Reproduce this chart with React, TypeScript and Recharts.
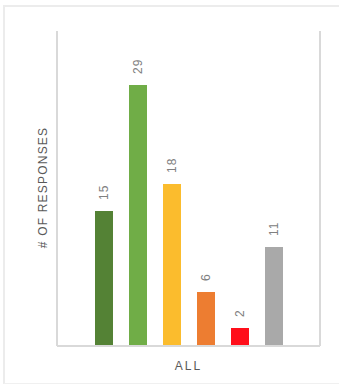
import React from 'react';
import { BarChart, Bar, XAxis, YAxis, LabelList, Label } from 'recharts';

const categories = ['ALL'];
const seriesKeys = ['s0', 's1', 's2', 's3', 's4', 's5'];
const seriesValues = [15, 29, 18, 6, 2, 11];
const seriesColors = ['#548235', '#70AD47', '#FBBC2D', '#ED7D31', '#FF0E1A', '#A9A9A9'];
const yDomain = [0, 35];
const yAxisTitle = '# OF RESPONSES';

const data = categories.map((name) => {
  const row: Record<string, string | number> = { name };
  seriesKeys.forEach((k, i) => {
    row[k] = seriesValues[i];
  });
  return row;
});

const FONT = '"Liberation Sans", Arial, sans-serif';

const renderBarLabel = (props: any) => {
  const { x, y, width, value } = props;
  const cx = Number(x) + Number(width) / 2;
  const ty = Number(y) - 11;
  return (
    <text
      x={cx}
      y={ty}
      transform={`rotate(-90 ${cx} ${ty})`}
      textAnchor="start"
      dominantBaseline="central"
      fontFamily={FONT}
      fontSize={12}
      letterSpacing={1}
      fill="#808080"
    >
      {value}
    </text>
  );
};

const renderYTitle = (props: any) => {
  const vb = props.viewBox || {};
  const cy = Number(vb.y) + Number(vb.height) / 2 - 1;
  const tx = 47;
  return (
    <text
      x={tx}
      y={cy}
      transform={`rotate(-90 ${tx} ${cy})`}
      textAnchor="middle"
      fontFamily={FONT}
      fontSize={12}
      letterSpacing={1.2}
      fill="#595959"
    >
      {yAxisTitle}
    </text>
  );
};

export default function App() {
  return (
    <div style={{ position: 'absolute', left: 0, top: 0, width: 339, height: 387, background: '#fff', overflow: 'hidden' }}>
      <div
        style={{
          position: 'absolute',
          left: 3,
          top: 5,
          width: 400,
          height: 379,
          borderLeft: '2px solid #ececec',
          borderTop: '2px solid #ececec',
          borderBottom: '1px solid #f0f0f0',
          boxSizing: 'border-box',
        }}
      />
      <div style={{ position: 'absolute', left: 0, top: 0 }}>
        <BarChart
          width={339}
          height={387}
          data={data}
          margin={{ top: 31, right: 0, bottom: 0, left: 0 }}
          barSize={18}
          barGap={16}
        >
          <XAxis
            dataKey="name"
            height={41}
            axisLine={{ stroke: '#d9d9d9', strokeWidth: 2 }}
            tickLine={false}
            tickMargin={9}
            tick={{ fill: '#595959', fontSize: 12, fontFamily: FONT, letterSpacing: 2 }}
          />
          <YAxis
            yAxisId="left"
            width={57}
            domain={yDomain}
            tick={false}
            tickLine={false}
            axisLine={{ stroke: '#d9d9d9', strokeWidth: 2 }}
          >
            <Label content={renderYTitle} />
          </YAxis>
          <YAxis
            yAxisId="right"
            orientation="right"
            width={19}
            domain={yDomain}
            tick={false}
            tickLine={false}
            axisLine={{ stroke: '#d9d9d9', strokeWidth: 2 }}
          />
          {seriesKeys.map((k, i) => (
            <Bar key={k} dataKey={k} yAxisId="left" fill={seriesColors[i]} isAnimationActive={false}>
              <LabelList dataKey={k} content={renderBarLabel} />
            </Bar>
          ))}
        </BarChart>
      </div>
    </div>
  );
}
